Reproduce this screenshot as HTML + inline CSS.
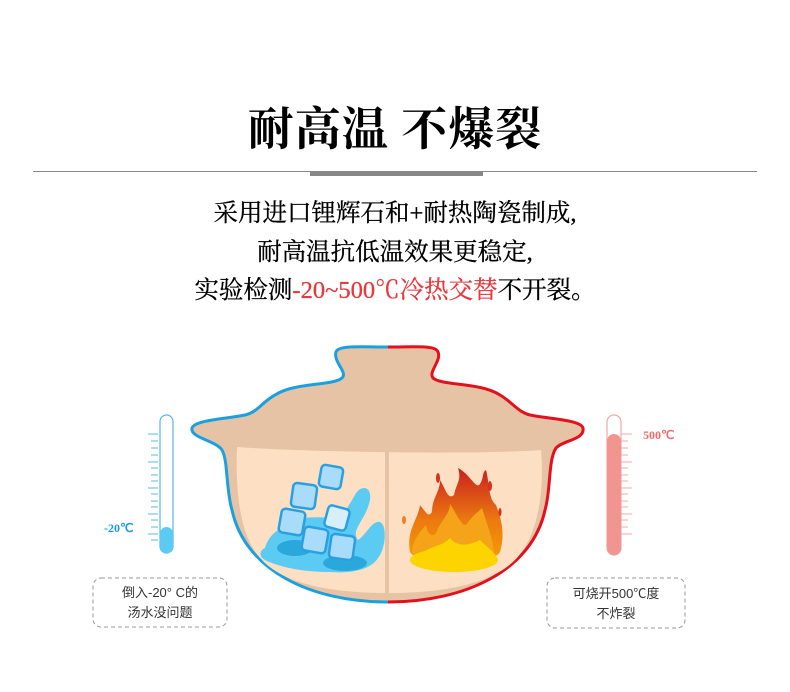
<!DOCTYPE html>
<html><head><meta charset="utf-8"><style>
html,body{margin:0;padding:0;background:#fff;}
body{width:790px;height:692px;position:relative;overflow:hidden;font-family:"Liberation Serif","Noto Serif CJK SC",serif;}
.t{position:absolute;left:0;width:790px;text-align:center;color:#000;}
</style></head><body>
<div class="t" style="top:100px;font-size:46px;font-weight:700;line-height:60px;letter-spacing:1px;">耐高温 不爆裂</div>
<div style="position:absolute;left:33px;top:171px;width:724px;height:1px;background:#888;"></div>
<div style="position:absolute;left:310px;top:172px;width:173px;height:4px;background:#888;"></div>
<div class="t" style="top:195px;font-size:24.5px;line-height:38.5px;-webkit-text-stroke:0.3px #000;">采用进口锂辉石和+耐热陶瓷制成,<br>耐高温抗低温效果更稳定,<br>实验检测<span style="color:#e8383d;-webkit-text-stroke:0.3px #e8383d">-20~500℃冷热交替</span>不开裂。</div>
<svg width="790" height="692" style="position:absolute;left:0;top:0" xmlns="http://www.w3.org/2000/svg">
<defs>
<linearGradient id="fl" x1="0" y1="0" x2="0" y2="1"><stop offset="0" stop-color="#c8201e"/><stop offset="0.55" stop-color="#ec7a10"/><stop offset="1" stop-color="#f6a000"/></linearGradient>
<clipPath id="lc"><rect x="0" y="0" width="388" height="692"/></clipPath>
<clipPath id="rc"><rect x="388" y="0" width="400" height="692"/></clipPath>
</defs>
<path d="M388,347 C360,347 338,345 336,352 C333,362 348,372 342,378 C333,386 295,382 275,395 C262,402 258,412 245,415 C225,419 195,420 192,428 C190,438 215,440 222,450 C228,460 226,490 232,510 C245,570 310,602 388,602 C466,602 532,570 545,510 C551,490 548,460 556,448 C563,440 585,440 583,428 C581,420 550,419 530,415 C518,412 512,402 500,395 C480,382 442,386 433,378 C428,372 442,360 438,352 C436,345 416,347 388,347 Z" fill="#e7c3a5"/>
<path d="M388,347 C360,347 338,345 336,352 C333,362 348,372 342,378 C333,386 295,382 275,395 C262,402 258,412 245,415 C225,419 195,420 192,428 C190,438 215,440 222,450 C228,460 226,490 232,510 C245,570 310,602 388,602 C466,602 532,570 545,510 C551,490 548,460 556,448 C563,440 585,440 583,428 C581,420 550,419 530,415 C518,412 512,402 500,395 C480,382 442,386 433,378 C428,372 442,360 438,352 C436,345 416,347 388,347 Z" fill="none" stroke="#1aa0e0" stroke-width="3" clip-path="url(#lc)"/>
<path d="M388,347 C360,347 338,345 336,352 C333,362 348,372 342,378 C333,386 295,382 275,395 C262,402 258,412 245,415 C225,419 195,420 192,428 C190,438 215,440 222,450 C228,460 226,490 232,510 C245,570 310,602 388,602 C466,602 532,570 545,510 C551,490 548,460 556,448 C563,440 585,440 583,428 C581,420 550,419 530,415 C518,412 512,402 500,395 C480,382 442,386 433,378 C428,372 442,360 438,352 C436,345 416,347 388,347 Z" fill="none" stroke="#e3101e" stroke-width="3" clip-path="url(#rc)"/>
<path d="M237,447 C300,452 480,455 541,450 C545,500 535,540 515,560 C490,585 440,593 388,593 C335,593 285,585 262,560 C242,540 235,500 237,447 Z" fill="#fde0c4"/>
<rect x="385" y="451" width="4" height="142" fill="#e7c3a5"/>
<path d="M265,548 C270,530 285,528 292,520 C300,518 320,515 340,520 L355,495 C360,485 372,485 370,500 C366,520 350,530 358,540 C366,535 372,520 380,522 C388,526 385,550 378,558 C372,568 355,574 330,572 C305,572 282,568 265,560 C258,556 260,550 265,548 Z" fill="#5ccbf3"/>
<ellipse cx="295" cy="548" rx="18" ry="8" fill="#2aa8dc"/>
<ellipse cx="345" cy="563" rx="22" ry="8" fill="#2aa8dc"/>
<g fill="#a9dcfb" stroke="#2aa0e0" stroke-width="2.5">
<rect x="320" y="466" width="22" height="22" rx="4" transform="rotate(10 331 477)"/>
<rect x="292" y="484" width="24" height="24" rx="4" transform="rotate(8 304 496)"/>
<rect x="326" y="507" width="22" height="22" rx="4" fill="#d7eefc" transform="rotate(15 337 518)"/>
<rect x="280" y="510" width="24" height="24" rx="4" transform="rotate(10 292 522)"/>
<rect x="303" y="528" width="24" height="24" rx="4" transform="rotate(10 315 540)"/>
<rect x="330" y="535" width="24" height="24" rx="4" transform="rotate(8 342 547)"/>
</g>
<path d="M410,552 C406,530 418,520 420,505 C426,512 428,518 432,512 C432,498 440,492 440,480 C446,490 448,500 454,495 C456,484 462,480 458,468 C470,474 476,490 480,484 C484,478 482,472 486,470 C490,485 488,498 496,505 C502,520 505,535 500,552 C490,568 420,568 410,552 Z" fill="url(#fl)"/>
<path d="M412,555 C412,540 420,532 426,525 C428,538 436,538 438,528 C444,518 450,512 450,504 C458,516 462,528 467,524 C472,516 478,512 482,508 C486,522 494,540 494,555 Z" fill="#f5a419"/>
<ellipse cx="454" cy="560" rx="44" ry="12" fill="#fdd300"/>
<path d="M420,555 C430,545 440,548 450,538 C458,548 470,545 480,540 C488,548 494,552 496,556 C480,566 430,566 420,555 Z" fill="#fdd300"/>
<g fill="#d83020"><ellipse cx="438" cy="478" rx="2" ry="5"/><ellipse cx="490" cy="486" rx="2" ry="5"/><ellipse cx="500" cy="512" rx="1.5" ry="4"/><ellipse cx="404" cy="520" rx="2" ry="4" fill="#f08020"/></g>
<g stroke="#5bb7e6" stroke-width="1">
<line x1="148" y1="434" x2="158" y2="434"/><line x1="151" y1="441" x2="158" y2="441"/><line x1="151" y1="448" x2="158" y2="448"/><line x1="151" y1="455" x2="158" y2="455"/><line x1="148" y1="462" x2="158" y2="462"/><line x1="151" y1="468" x2="158" y2="468"/><line x1="151" y1="475" x2="158" y2="475"/><line x1="151" y1="481" x2="158" y2="481"/><line x1="148" y1="488" x2="158" y2="488"/><line x1="151" y1="494" x2="158" y2="494"/><line x1="151" y1="501" x2="158" y2="501"/><line x1="151" y1="507" x2="158" y2="507"/><line x1="148" y1="514" x2="158" y2="514"/><line x1="151" y1="520" x2="158" y2="520"/><line x1="151" y1="527" x2="158" y2="527"/><line x1="148" y1="534" x2="158" y2="534"/><line x1="151" y1="540" x2="158" y2="540"/>
</g>
<rect x="160" y="415" width="13" height="138" rx="6.5" fill="#fff" stroke="#5bb7e6" stroke-width="1.2"/>
<rect x="160" y="527" width="13" height="26" rx="6.5" fill="#5ccbf3"/>
<text x="104" y="532" font-family="Liberation Serif,serif" font-weight="700" font-size="12" fill="#1a9ad8">-20℃</text>
<g stroke="#f4a8a8" stroke-width="1">
<line x1="621" y1="434" x2="632" y2="434"/><line x1="621" y1="441" x2="628" y2="441"/><line x1="621" y1="448" x2="628" y2="448"/><line x1="621" y1="455" x2="628" y2="455"/><line x1="621" y1="462" x2="632" y2="462"/><line x1="621" y1="468" x2="628" y2="468"/><line x1="621" y1="475" x2="628" y2="475"/><line x1="621" y1="481" x2="628" y2="481"/><line x1="621" y1="488" x2="632" y2="488"/><line x1="621" y1="494" x2="628" y2="494"/><line x1="621" y1="501" x2="628" y2="501"/><line x1="621" y1="507" x2="628" y2="507"/><line x1="621" y1="514" x2="632" y2="514"/><line x1="621" y1="520" x2="628" y2="520"/><line x1="621" y1="527" x2="628" y2="527"/><line x1="621" y1="534" x2="632" y2="534"/>
</g>
<rect x="607" y="415" width="14" height="140" rx="7" fill="#fff" stroke="#f4a8a8" stroke-width="1.2"/>
<rect x="607" y="434" width="14" height="121" rx="7" fill="#f09590"/>
<text x="643" y="439" font-family="Liberation Serif,serif" font-weight="700" font-size="12" fill="#ee6a66">500℃</text>
<rect x="93" y="578" width="134" height="49" rx="8" fill="none" stroke="#999" stroke-dasharray="4,3"/>
<rect x="547" y="578" width="138" height="50" rx="8" fill="none" stroke="#999" stroke-dasharray="4,3"/>
<g font-family="Liberation Sans,Noto Sans CJK SC,sans-serif" font-size="13" fill="#333" text-anchor="middle">
<text x="160" y="597">倒入-20° C的</text><text x="160" y="617">汤水没问题</text>
<text x="616" y="598">可烧开500℃度</text><text x="616" y="618">不炸裂</text>
</g>
</svg>
</body></html>
